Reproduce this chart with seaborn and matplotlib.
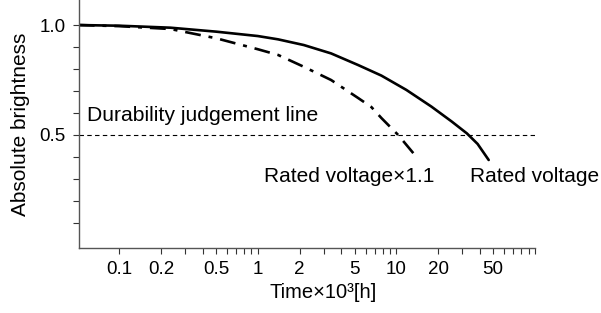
import numpy as np
import pandas as pd
import matplotlib
matplotlib.use('Agg')
import matplotlib.pyplot as plt
import matplotlib.ticker as mticker
import seaborn as sns

# Values (time in 10^3 h, relative brightness).
rated_time = [0.051, 0.1, 0.234, 0.5, 1.0, 1.4, 2.15, 3.38, 5.3, 7.8, 11.8,
              17.9, 25.1, 32.3, 38.6, 46.4]
rated_brightness = [1.0, 0.997, 0.988, 0.970, 0.950, 0.935, 0.909, 0.871, 0.818,
                    0.770, 0.705, 0.629, 0.561, 0.507, 0.459, 0.386]

over_time = [0.051, 0.1, 0.234, 0.5, 1.0, 1.4, 2.15, 3.38, 5.3, 6.6, 7.8, 10.3, 14.4]
over_brightness = [1.0, 0.995, 0.982, 0.94, 0.89, 0.864, 0.81, 0.75, 0.668, 0.627,
                   0.577, 0.5, 0.39]

judgement_level = 0.5
x_major = [0.1, 0.2, 0.5, 1, 2, 5, 10, 20, 50]
x_major_labels = ['0.1', '0.2', '0.5', '1', '2', '5', '10', '20', '50']
x_minor = [0.3, 0.4, 0.6, 0.7, 0.8, 0.9, 3, 4, 6, 7, 8, 9, 30, 40, 60, 70, 80, 90, 100]
y_major = [0.5, 1.0]
y_minor = [0.1, 0.2, 0.3, 0.4, 0.6, 0.7, 0.8, 0.9]


def main():
    sns.set_style('ticks')
    plt.rcParams['font.family'] = ['Liberation Sans', 'DejaVu Sans']
    plt.rcParams['text.color'] = 'black'
    plt.rcParams['axes.labelcolor'] = 'black'
    plt.rcParams['xtick.color'] = 'black'
    plt.rcParams['ytick.color'] = 'black'

    fig = plt.figure(figsize=(6.01, 3.13), dpi=100)
    ax = fig.add_axes([0.131, 0.208, 0.759, 0.792])

    rated_df = pd.DataFrame({'time': rated_time, 'brightness': rated_brightness})
    over_df = pd.DataFrame({'time': over_time, 'brightness': over_brightness})

    sns.lineplot(data=rated_df, x='time', y='brightness', color='black',
                 linewidth=1.9, ax=ax, sort=False)
    sns.lineplot(data=over_df, x='time', y='brightness', color='black',
                 linewidth=1.9, ax=ax, sort=False)
    ax.lines[-1].set_dashes([6, 3, 1.5, 3])

    ax.set_xscale('log')
    ax.set_xlim(0.051, 100)
    ax.set_ylim(-0.014, 1.114)

    ax.plot([0.051, 100], [judgement_level, judgement_level], color='black',
            linewidth=0.8, dashes=(4, 3))

    ax.set_xticks(x_major)
    ax.set_xticklabels(x_major_labels)
    ax.set_xticks(x_minor, minor=True)
    ax.xaxis.set_minor_formatter(mticker.NullFormatter())
    ax.set_yticks(y_major)
    ax.set_yticklabels(['0.5', '1.0'])
    ax.set_yticks(y_minor, minor=True)
    ax.yaxis.set_minor_formatter(mticker.NullFormatter())

    ax.tick_params(which='both', direction='out', length=4.3, width=0.8,
                   color='#333333', labelsize=13.5, pad=5)

    for side in ['top', 'right']:
        ax.spines[side].set_visible(False)
    for side in ['left', 'bottom']:
        ax.spines[side].set_color('#555555')
        ax.spines[side].set_linewidth(1.0)

    ax.set_xlabel('Time×10³[h]', fontsize=14.5, labelpad=5)
    ax.xaxis.set_label_coords(0.535, -0.14)
    ax.set_ylabel('Absolute brightness', fontsize=15, labelpad=7)

    ax.text(0.0586, 0.564, 'Durability judgement line', fontsize=15.2,
            va='baseline', ha='left')
    ax.text(1.105, 0.286, 'Rated voltage×1.1', fontsize=15,
            va='baseline', ha='left')
    ax.text(33.8, 0.286, 'Rated voltage', fontsize=15,
            va='baseline', ha='left')

    fig.savefig('out.png', dpi=100)


if __name__ == '__main__':
    main()
